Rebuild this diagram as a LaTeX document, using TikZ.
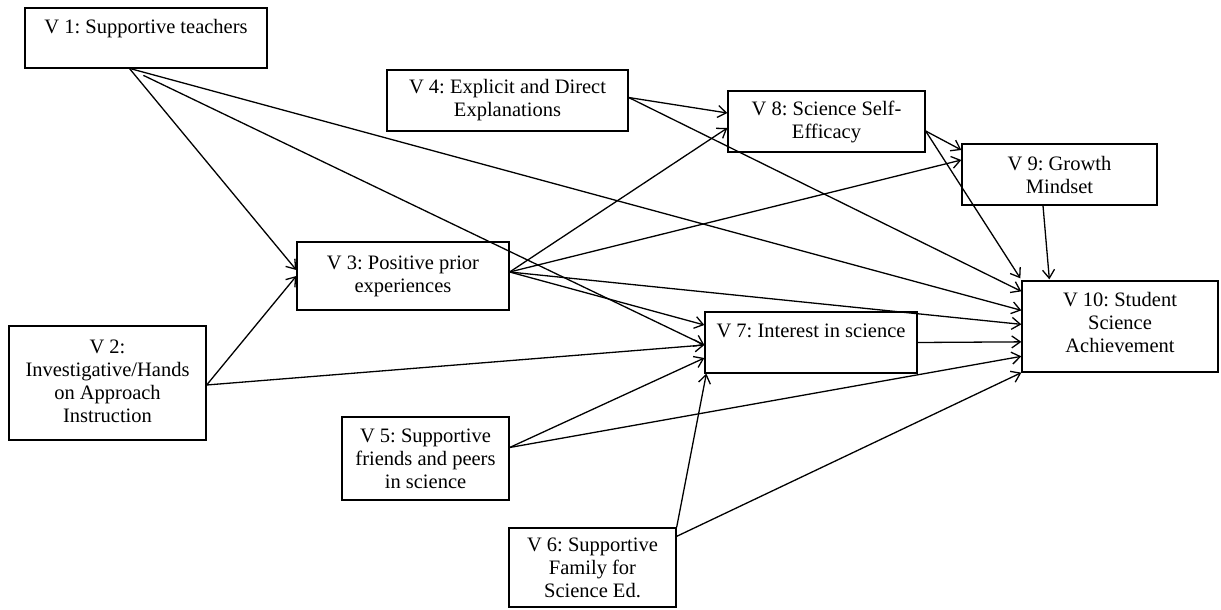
\documentclass[tikz,border=0pt]{standalone}
\usepackage{fontspec}
\setmainfont{Liberation Serif}
\usetikzlibrary{arrows.meta,calc}

\tikzset{
  varbox/.style={draw, line width=1.3pt, fill=white, align=center, inner sep=0pt,
    font=\fontsize{20.5}{23}\selectfont\frenchspacing},
  path/.style={line width=1.3pt, -{Straight Barb[length=8.5pt,width=12pt,line width=1.3pt]}},
}

\begin{document}
\begin{tikzpicture}[x=1pt,y=-1pt]
\useasboundingbox[fill=white] (0,0) rectangle (1221,610);

% variables
\node[varbox, minimum width=242pt, minimum height=60pt] (v1) at (146,38) {V 1: Supportive teachers\\\mbox{}};
\node[varbox, minimum width=197pt, minimum height=114pt] (v2) at (107.5,383) {V 2:\\Investigative/Hands\\on Approach\\Instruction\\[-19pt]\mbox{}};
\node[varbox, minimum width=212pt, minimum height=68pt] (v3) at (403,276) {V 3: Positive prior\\experiences};
\node[varbox, minimum width=241pt, minimum height=61pt] (v4) at (507.5,100.5) {V 4: Explicit and Direct\\Explanations};
\node[varbox, minimum width=167pt, minimum height=83pt] (v5) at (425.5,458.5) {V 5: Supportive\\friends and peers\\in science};
\node[varbox, minimum width=167pt, minimum height=79pt] (v6) at (592.5,567.5) {V 6: Supportive\\Family for\\Science Ed.};
\node[varbox, minimum width=212pt, minimum height=61pt] (v7) at (811,342.5) {V 7: Interest in science\\\mbox{}};
\node[varbox, minimum width=197pt, minimum height=61pt] (v8) at (826.5,121.5) {V 8: Science Self-\\Efficacy};
\node[varbox, minimum width=195pt, minimum height=61pt] (v9) at (1059.5,174.5) {V 9: Growth\\Mindset};
\node[varbox, minimum width=196pt, minimum height=91pt] (v10) at (1120,326.5) {V 10: Student\\Science\\Achievement\\[-15pt]\mbox{}};

% paths from V1
\draw[path] ($(v1.north west)+(105,61)$) -- ($(v3.west)+(0,-6)$);
\draw[path] ($(v1.north west)+(105,61)$) -- ($(v10.north west)+(0,30)$);
\draw[path] ($(v1.north west)+(119,68)$) -- ($(v7.west)+(0,2.5)$);

% paths from V2
\draw[path] ($(v2.east)+(0,2)$) -- (v3.west);
\draw[path] ($(v2.east)+(0,2)$) -- ($(v7.west)+(0,2.5)$);

% paths from V3
\draw[path] ($(v3.east)+(0,-4)$) -- ($(v8.west)+(0,6.5)$);
\draw[path] ($(v3.east)+(0,-4)$) -- ($(v9.west)+(0,-14.5)$);
\draw[path] ($(v3.east)+(0,-4)$) -- ($(v10.north west)+(0,44)$);
\draw[path] ($(v3.east)+(0,-4)$) -- ($(v7.west)+(0,-17.5)$);

% paths from V4
\draw[path] ($(v4.east)+(0,-3)$) -- ($(v8.west)+(0,-8.5)$);
\draw[path] ($(v4.east)+(0,-3)$) -- ($(v10.north west)+(0,11)$);

% paths from V5
\draw[path] ($(v5.east)+(0,-11)$) -- ($(v7.west)+(0,15.5)$);
\draw[path] ($(v5.east)+(0,-11)$) -- ($(v10.north west)+(0,76)$);

% paths from V6
\draw[path] (v6.north east) -- ($(v7.south west)+(2,0)$);
\draw[path] ($(v6.north east)+(0,9)$) -- (v10.south west);

% paths from V7, V8, V9
\draw[path] (v7.east) -- ($(v10.north west)+(0,61.5)$);
\draw[path] ($(v8.east)+(0,9.5)$) -- ($(v9.west)+(0,-24.5)$);
\draw[path] ($(v8.east)+(0,9.5)$) -- ($(v10.north west)+(-1,-2)$);
\draw[path] ($(v9.south)+(-16.5,0)$) -- ($(v10.north west)+(28,-1)$);
\end{tikzpicture}
\end{document}
